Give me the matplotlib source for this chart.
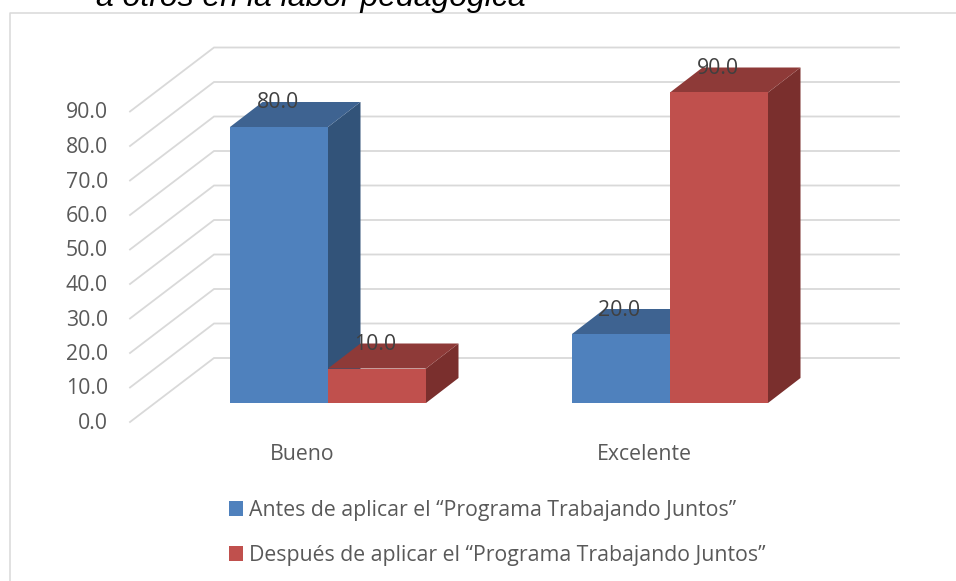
import matplotlib
matplotlib.use('Agg')
import matplotlib.pyplot as plt
from matplotlib.patches import Polygon, Patch

categorias = ['Bueno', 'Excelente']
antes = [80.0, 20.0]
despues = [10.0, 90.0]
ticks = [0, 10, 20, 30, 40, 50, 60, 70, 80, 90]
serie_antes = 'Antes de aplicar el “Programa Trabajando Juntos”'
serie_despues = 'Después de aplicar el “Programa Trabajando Juntos”'
titulo = 'a otros en la labor pedagógica'

W, H = 956, 581
PX_V = 3.45      # pixels per unit of value
PX_CAT = 342.0   # pixels between categories
Y0 = 403.0       # pixel row of value 0, bar front
X0 = 328.0       # pixel column of first category centre
FS = 15.3

plt.rcParams['font.family'] = ['Open Sans', 'DejaVu Sans']
fig = plt.figure(figsize=(W / 100, H / 100), dpi=100)
ax = fig.add_axes([0, 0, 1, 1])
ax.set_xlim(-X0 / PX_CAT, (W - X0) / PX_CAT)
ax.set_ylim((Y0 - H) / PX_V, Y0 / PX_V)
ax.axis('off')

# depth of the 3d box, in data units
bar_w = 98 / PX_CAT
dx = 32.5 / PX_CAT
dy = 25 / PX_V
# gridlines: slanted part on the side wall, then flat along the back wall
front_x = -198 / PX_CAT
back_x = -114 / PX_CAT
right_x = (899 - X0) / PX_CAT
wall_y0 = (Y0 - 358.0) / PX_V
front_y0 = (Y0 - 422.0) / PX_V


def caja(x, v, c_front, c_top, c_side):
    ax.add_patch(Polygon([(x, 0), (x + bar_w, 0), (x + bar_w + dx, dy), (x + bar_w + dx, v + dy),
                          (x + bar_w, v)], fc=c_side, ec='none', zorder=3))
    ax.add_patch(Polygon([(x, v), (x + bar_w, v), (x + bar_w + dx, v + dy), (x + dx, v + dy)],
                         fc=c_top, ec='none', zorder=3))
    ax.add_patch(Polygon([(x, 0), (x + bar_w, 0), (x + bar_w, v), (x, v)], fc=c_front,
                         ec='none', zorder=3))
    ax.text(x + bar_w / 2 - 1.5 / PX_CAT, v + dy - 1 / PX_V, '%.1f' % v, ha='center', va='center',
            fontsize=FS, color='#404040', zorder=5)


for t in ticks:
    ax.plot([front_x, back_x, right_x], [front_y0 + t, wall_y0 + t, wall_y0 + t],
            color='#D9D9D9', lw=1.3, zorder=1, solid_joinstyle='miter')
    ax.text((108 - X0) / PX_CAT, front_y0 + t - 1.5 / PX_V, '%.1f' % t, ha='right', va='center',
            fontsize=FS, color='#595959')

for i, cat in enumerate(categorias):
    caja(i - bar_w, antes[i], '#4F81BD', '#3E6391', '#325379')
    caja(i, despues[i], '#C0504D', '#8E3A38', '#7A2F2D')
    ax.text(i - 26 / PX_CAT, (Y0 - 454) / PX_V, cat, ha='center', va='center',
            fontsize=FS, color='#595959')

handles = [Patch(fc='#4F81BD', label=serie_antes), Patch(fc='#C0504D', label=serie_despues)]
ax.legend(handles=handles, loc='upper left', bbox_to_anchor=(229 / W, 1 - 500 / H), frameon=False,
          fontsize=FS, labelcolor='#595959', handlelength=0.66, handleheight=0.66,
          handletextpad=0.28, labelspacing=1.13, borderpad=0, borderaxespad=0)

# chart frame
fig.add_artist(plt.Line2D([9.5 / W, 9.5 / W, 1], [0, 1 - 13 / H, 1 - 13 / H], color='#D9D9D9', lw=1.1))

fig.text(96 / W, 1 - 6 / H, titulo, family='Liberation Sans', style='italic', fontsize=23,
         color='black', ha='left', va='baseline')

fig.savefig('out.png', dpi=100)
